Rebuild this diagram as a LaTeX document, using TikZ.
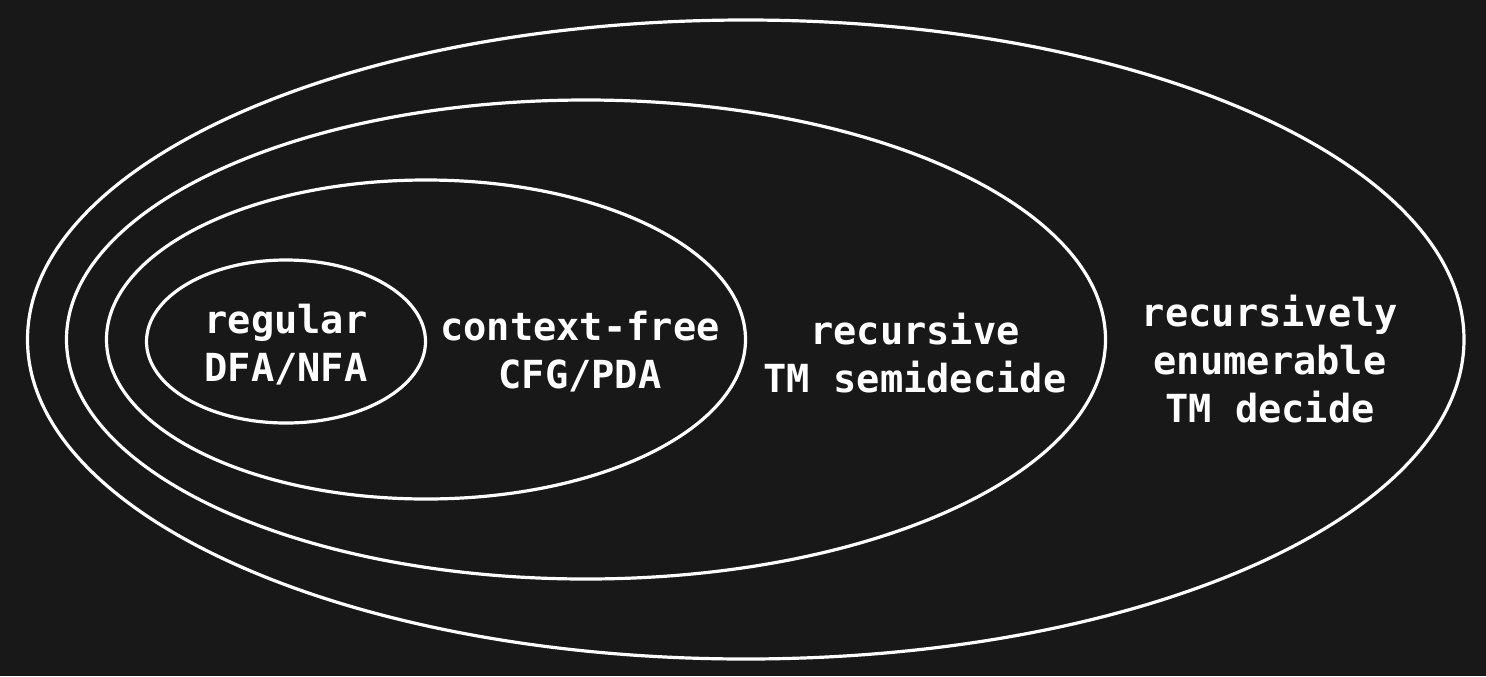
\documentclass[tikz,border=0pt]{standalone}
\usepackage{fontspec}
\setmonofont{DejaVu Sans Mono}
\usepackage{xcolor}
\usepackage{tikz}
\definecolor{bgdark}{RGB}{24,24,24}

\begin{document}
\begin{tikzpicture}[x=0.75pt,y=0.75pt,yscale=-1,xscale=1,
  ring/.style={draw=white,line width=2.4pt},
  lang/.style={anchor=center,inner sep=0.75pt,align=center,text=white,
    font=\ttfamily\bfseries\fontsize{29}{36}\selectfont}]
%Shape: Rectangle [id:background]
\fill [bgdark] (0,0) rectangle (1486,676) ;
%Shape: Ellipse [id:recursively enumerable]
\draw [ring] (745.75,339.5) ellipse (718.25 and 319.5) ;
%Shape: Ellipse [id:recursive]
\draw [ring] (586,339.5) ellipse (519.5 and 239.5) ;
%Shape: Ellipse [id:context free]
\draw [ring] (426,339.5) ellipse (319.5 and 159.5) ;
%Shape: Ellipse [id:regular]
\draw [ring] (286,341.5) ellipse (139.5 and 81.5) ;
% Text Node
\draw (286,345) node (reg) [lang] {regular\\DFA/NFA};
% Text Node
\draw (580,352) node (cfree) [lang] {context-free\\CFG/PDA};
% Text Node
\draw (915,353) node (rec) [lang] {recursive\\TM semidecide};
% Text Node
\draw (1270,359) node (renum) [lang] {recursively\\enumerable\\TM decide};
\end{tikzpicture}
\end{document}
